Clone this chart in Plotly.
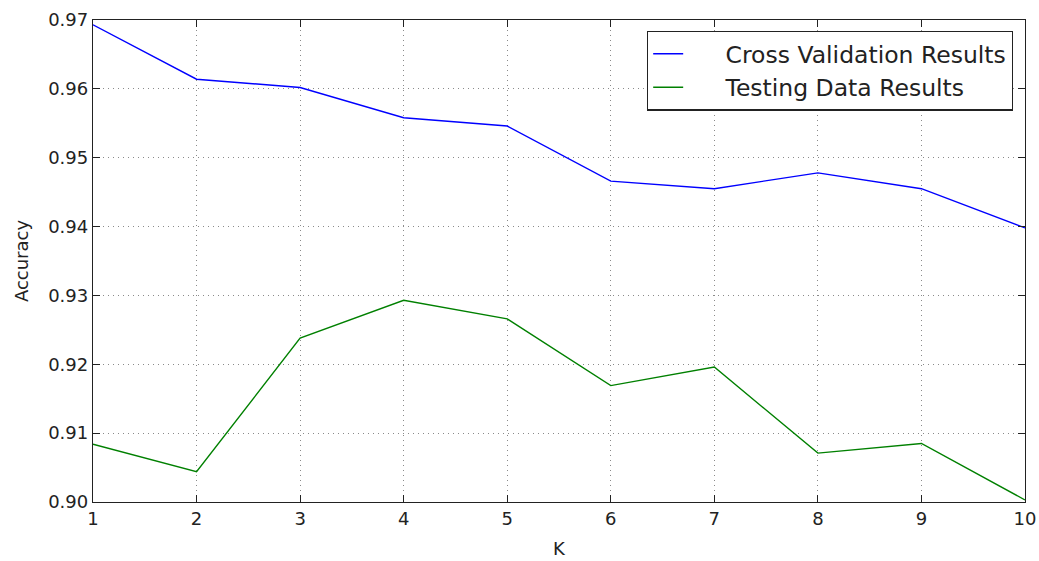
import plotly.graph_objects as go

k_values = [1, 2, 3, 4, 5, 6, 7, 8, 9, 10]
cv_results = [0.9693, 0.9614, 0.9602, 0.9558, 0.9546, 0.9466, 0.9455, 0.9478, 0.9455, 0.9398]
test_results = [0.9084, 0.9044, 0.9238, 0.9293, 0.9266, 0.9169, 0.9196, 0.9071, 0.9085, 0.9003]
y_ticks = [0.90, 0.91, 0.92, 0.93, 0.94, 0.95, 0.96, 0.97]
y_tick_labels = ["0.90", "0.91", "0.92", "0.93", "0.94", "0.95", "0.96", "0.97"]
series_names = ["Cross Validation Results", "Testing Data Results"]

font_family = "DejaVu Sans"
pad = "\u00a0\u00a0\u00a0\u00a0\u00a0"

fig = go.Figure()
fig.add_trace(go.Scatter(x=k_values, y=cv_results, mode="lines", name=pad + series_names[0],
                         legendgroup="a", line=dict(color="#0000ff", width=1.4)))
fig.add_trace(go.Scatter(x=k_values, y=test_results, mode="lines", name=pad + series_names[1],
                         legendgroup="b", line=dict(color="#008000", width=1.4)))

axis_common = dict(
    showline=True, linecolor="#222222", linewidth=1.3, mirror="ticks",
    ticks="inside", ticklen=7, tickwidth=1, tickcolor="#222222",
    showgrid=True, gridcolor="#8a8a8a", gridwidth=1, griddash="1px,4px",
    zeroline=False, tickfont=dict(family=font_family, size=18, color="#222222"),
    automargin=False,
)

fig.update_xaxes(range=[1, 10], tickvals=k_values, ticktext=[str(k) for k in k_values],
                 title=dict(text="K", font=dict(family=font_family, size=18, color="#222222"), standoff=14),
                 **axis_common)
fig.update_yaxes(range=[0.90, 0.97], tickvals=y_ticks, ticktext=y_tick_labels,
                 title=dict(text="Accuracy", font=dict(family=font_family, size=18, color="#222222"), standoff=14),
                 **axis_common)

fig.update_layout(
    width=1039, height=561,
    margin=dict(l=93, r=14, t=20, b=59),
    plot_bgcolor="white", paper_bgcolor="white",
    font=dict(family=font_family, color="#222222"),
    legend=dict(x=0.987, y=0.978, xanchor="right", yanchor="top",
                bgcolor="white", bordercolor="#222222", borderwidth=1.3,
                font=dict(family=font_family, size=23.5, color="#222222"),
                tracegroupgap=0, itemwidth=30),
)

fig.write_html("out.html")
